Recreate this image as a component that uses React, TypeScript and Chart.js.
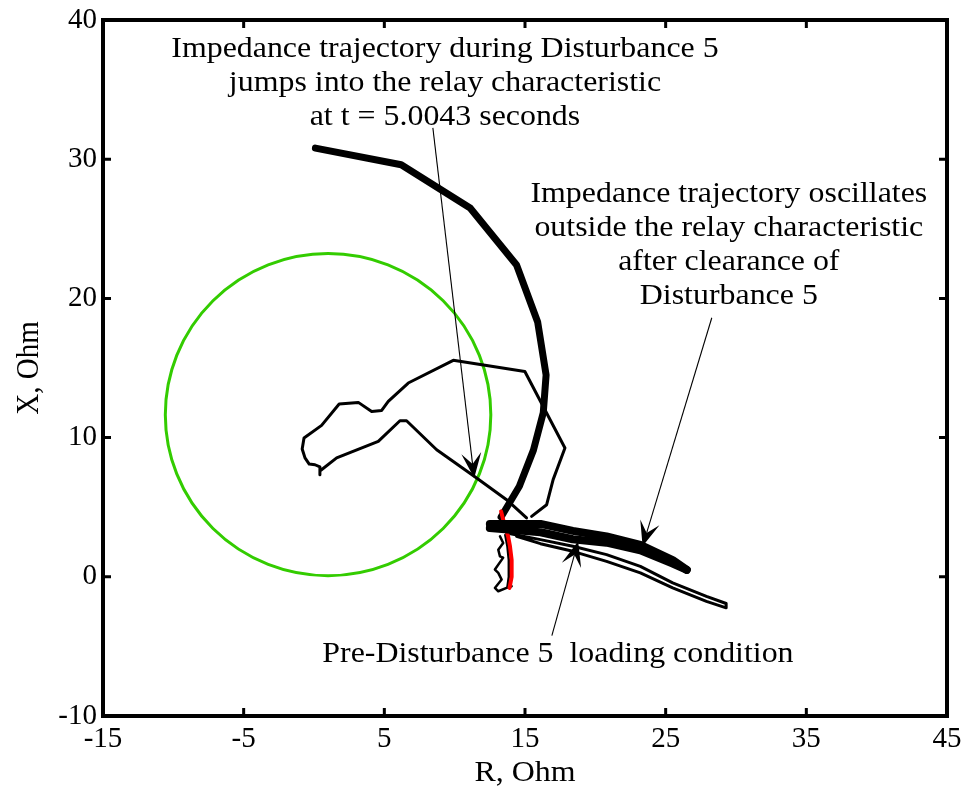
import React, { useEffect, useRef } from "react";
import { Chart, registerables } from "chart.js";

Chart.register(...registerables);

// ---------- axis ticks ----------
const xTickValues = [-15, -5, 5, 15, 25, 35, 45];
const yTickValues = [-10, 0, 10, 20, 30, 40];

// ---------- relay characteristic (mho circle) ----------
const relayCenterR = 1.0;
const relayCenterX = 11.65;
const relayRadius = 11.57;

// ---------- impedance trajectory during Disturbance 5 (thick) ----------
const jumpR = [0.1, 6.2, 11.1, 14.4, 15.9, 16.5, 16.3, 15.6, 14.6, 13.3];
const jumpX = [30.8, 29.6, 26.5, 22.4, 18.3, 14.5, 11.8, 9.1, 6.5, 4.3];

// ---------- impedance swing (thin) ----------
const swingR = [15.47, 16.54, 17.0, 17.84, 14.99, 9.9, 6.7, 5.28, 4.81, 4.1, 3.15, 1.79, 0.54, -0.71, -0.84, -0.64, -0.34, 0.07, 0.42, 0.42, 0.42, 1.61, 4.57, 6.11, 6.58, 8.72, 11.56, 13.69, 15.11];
const swingX = [4.34, 5.18, 6.98, 9.25, 14.75, 15.55, 13.92, 12.6, 11.95, 11.88, 12.53, 12.41, 10.88, 9.97, 9.18, 8.54, 8.1, 8.05, 7.89, 7.34, 7.6, 8.54, 9.73, 11.21, 11.21, 9.13, 7.1, 5.54, 4.23];

// ---------- oscillation after clearance: dense band (two passes) ----------
const bandUpperR = [12.5, 16.1, 18.4, 20.8, 23.2, 25.5, 26.5];
const bandUpperX = [3.8, 3.8, 3.3, 2.9, 2.3, 1.2, 0.5];
const bandLowerR = [12.5, 16.1, 18.4, 20.8, 23.2, 25.5, 26.5];
const bandLowerX = [3.5, 3.2, 2.7, 2.45, 1.9, 0.95, 0.5];

// ---------- oscillation after clearance: outer loop ----------
const loopR = [13.7, 16.1, 18.4, 20.8, 23.2, 25.5, 27.9, 29.3, 29.3, 27.9, 25.5, 23.2, 20.8, 18.4, 16.1, 14.4];
const loopX = [3.15, 2.67, 2.19, 1.59, 0.75, -0.44, -1.4, -1.92, -2.23, -1.76, -0.8, 0.28, 1.11, 1.83, 2.38, 2.91];

// ---------- small swings near the loading point ----------
const wiggleR = [13.22, 13.45, 13.1, 13.22, 13.45, 12.86, 13.1, 13.34, 12.86, 13.1, 13.69, 14.05];
const wiggleX = [2.91, 2.43, 1.95, 1.47, 1.38, 0.52, 0.28, -0.2, -0.8, -1.04, -0.8, -0.68];
const edgeR = [13.6, 13.75, 13.85, 13.85, 13.75];
const edgeX = [3.0, 2.2, 1.2, 0.0, -0.75];

// ---------- pre-disturbance loading condition (red) ----------
const preR = [13.3, 13.5, 13.8, 13.93, 14.05, 14.05, 13.9];
const preX = [4.7, 3.9, 2.9, 2.2, 1.2, 0.0, -0.8];

// ---------- annotation texts ----------
const note1Lines = [
  "Impedance trajectory during Disturbance 5",
  "jumps into the relay characteristic",
  "at t = 5.0043 seconds",
];
const note2Lines = [
  "Impedance trajectory oscillates",
  "outside the relay characteristic",
  "after clearance of",
  "Disturbance 5",
];
const note3Lines = ["Pre-Disturbance 5  loading condition"];
const xTitle = "R, Ohm";
const yTitle = "X, Ohm";

const zip = (r: number[], x: number[]) => r.map((v, i) => ({ x: v, y: x[i] }));

const SERIF = '"Liberation Serif", "Times New Roman", Times, serif';
const FONT_SIZE = 29;
const STRETCH = 1.1;

function stretchedText(ctx: CanvasRenderingContext2D, text: string, cx: number, cy: number) {
  ctx.save();
  ctx.translate(cx, cy);
  ctx.scale(STRETCH, 1);
  ctx.fillText(text, 0, 0);
  ctx.restore();
}

function drawArrow(ctx: CanvasRenderingContext2D, x0: number, y0: number, x1: number, y1: number) {
  const len = 25, half = 10, notch = 14;
  const dx = x1 - x0, dy = y1 - y0;
  const d = Math.hypot(dx, dy);
  const ux = dx / d, uy = dy / d;
  const px = -uy, py = ux;
  const bx = x1 - ux * len, by = y1 - uy * len;
  const nx = x1 - ux * notch, ny = y1 - uy * notch;
  ctx.beginPath();
  ctx.moveTo(x0, y0);
  ctx.lineTo(nx, ny);
  ctx.lineWidth = 1.1;
  ctx.strokeStyle = "#000";
  ctx.stroke();
  ctx.beginPath();
  ctx.moveTo(x1, y1);
  ctx.lineTo(bx + px * half, by + py * half);
  ctx.lineTo(nx, ny);
  ctx.lineTo(bx - px * half, by - py * half);
  ctx.closePath();
  ctx.fillStyle = "#000";
  ctx.fill();
}

const annotPlugin = {
  id: "annot",
  beforeDatasetsDraw(chart: any) {
    const { ctx, scales } = chart;
    const xs = scales.x, ys = scales.y;
    const cx = xs.getPixelForValue(relayCenterR);
    const cy = ys.getPixelForValue(relayCenterX);
    const rx = Math.abs(xs.getPixelForValue(relayCenterR + relayRadius) - cx);
    const ry = Math.abs(ys.getPixelForValue(relayCenterX + relayRadius) - cy);
    ctx.save();
    ctx.beginPath();
    ctx.ellipse(cx, cy, rx, ry, 0, 0, Math.PI * 2);
    ctx.strokeStyle = "#33cc00";
    ctx.lineWidth = 3;
    ctx.stroke();
    ctx.restore();
  },
  afterDatasetsDraw(chart: any) {
    const { ctx, scales, chartArea } = chart;
    const xs = scales.x, ys = scales.y;
    const P = (r: number, x: number) => [xs.getPixelForValue(r), ys.getPixelForValue(x)];
    ctx.save();

    // arrows
    const arrows = [
      [8.45, 32.25, 11.39, 7.1],
      [28.28, 18.61, 23.36, 2.19],
      [16.91, -4.22, 18.78, 2.55],
    ];
    arrows.forEach(([r0, x0, r1, x1]) => {
      const [a, b] = P(r0, x0);
      const [c, d] = P(r1, x1);
      drawArrow(ctx, a, b, c, d);
    });

    // texts
    ctx.fillStyle = "#000";
    ctx.font = `${FONT_SIZE}px ${SERIF}`;
    ctx.textAlign = "center";
    ctx.textBaseline = "alphabetic";
    const notes: [string[], number, number][] = [
      [note1Lines, 9.31, 37.34],
      [note2Lines, 29.49, 26.93],
      [note3Lines, 17.34, -6.09],
    ];
    notes.forEach(([lines, r, x]) => {
      const [px, py] = P(r, x);
      lines.forEach((t, i) => stretchedText(ctx, t, px, py + i * 34));
    });

    // box
    ctx.strokeStyle = "#000";
    ctx.lineWidth = 4;
    ctx.strokeRect(chartArea.left, chartArea.top, chartArea.right - chartArea.left, chartArea.bottom - chartArea.top);

    // inward ticks
    ctx.lineWidth = 3;
    const tl = 8;
    ctx.beginPath();
    xTickValues.forEach((v) => {
      const px = xs.getPixelForValue(v);
      ctx.moveTo(px, chartArea.bottom);
      ctx.lineTo(px, chartArea.bottom - tl);
      ctx.moveTo(px, chartArea.top);
      ctx.lineTo(px, chartArea.top + tl);
    });
    yTickValues.forEach((v) => {
      const py = ys.getPixelForValue(v);
      ctx.moveTo(chartArea.left, py);
      ctx.lineTo(chartArea.left + tl, py);
      ctx.moveTo(chartArea.right, py);
      ctx.lineTo(chartArea.right - tl, py);
    });
    ctx.stroke();

    // axis titles
    ctx.textBaseline = "middle";
    stretchedText(ctx, xTitle, (chartArea.left + chartArea.right) / 2, chartArea.bottom + 57);
    ctx.save();
    ctx.translate(chartArea.left - 73, (chartArea.top + chartArea.bottom) / 2);
    ctx.rotate(-Math.PI / 2);
    ctx.scale(1, STRETCH);
    ctx.fillText(yTitle, 0, 0);
    ctx.restore();

    ctx.restore();
  },
};

export default function App() {
  const ref = useRef<HTMLCanvasElement | null>(null);
  useEffect(() => {
    document.body.style.margin = "0";
    document.body.style.overflow = "hidden";
  }, []);
  useEffect(() => {
    if (!ref.current) return;
    const line = (data: any[], color: string, width: number, order: number) => ({
      data,
      borderColor: color,
      backgroundColor: color,
      borderWidth: width,
      pointRadius: 0,
      showLine: true,
      fill: false,
      tension: 0,
      order,
      borderJoinStyle: "round" as const,
      borderCapStyle: "round" as const,
    });
    const tickFont = { family: SERIF, size: FONT_SIZE };
    const chart = new Chart(ref.current, {
      type: "scatter",
      data: {
        datasets: [
          { label: "Swing", ...line(zip(swingR, swingX), "#000", 3, 6) },
          { label: "Disturbance 5", ...line(zip(jumpR, jumpX), "#000", 7, 5) },
          { label: "Loop", ...line(zip(loopR, loopX), "#000", 3, 4) },
          { label: "Wiggle", ...line(zip(wiggleR, wiggleX), "#000", 2.5, 4) },
          { label: "Edge", ...line(zip(edgeR, edgeX), "#000", 2.5, 4) },
          { label: "Pre-disturbance", ...line(zip(preR, preX), "#ff0000", 4, 3) },
          { label: "Band upper", ...line(zip(bandUpperR, bandUpperX), "#000", 8, 2) },
          { label: "Band lower", ...line(zip(bandLowerR, bandLowerX), "#000", 8, 1) },
        ],
      },
      options: {
        animation: false,
        responsive: true,
        maintainAspectRatio: false,
        layout: { padding: { left: 0, right: 14, top: 20, bottom: 0 } },
        plugins: { legend: { display: false }, tooltip: { enabled: false } },
        scales: {
          x: {
            type: "linear",
            min: -15,
            max: 45,
            afterBuildTicks: (s: any) => {
              s.ticks = xTickValues.map((v) => ({ value: v }));
            },
            afterFit: (s: any) => {
              s.height = 75;
              s.paddingLeft = 0;
              s.paddingRight = 0;
              s.paddingTop = 0;
              s.paddingBottom = 0;
            },
            grid: { display: false, drawTicks: false },
            border: { display: false },
            ticks: { font: tickFont, color: "#000", padding: 6, maxRotation: 0, autoSkip: false },
          },
          y: {
            type: "linear",
            min: -10,
            max: 40,
            afterBuildTicks: (s: any) => {
              s.ticks = yTickValues.map((v) => ({ value: v }));
            },
            afterFit: (s: any) => {
              s.width = 103;
              s.paddingLeft = 0;
              s.paddingRight = 0;
              s.paddingTop = 0;
              s.paddingBottom = 0;
            },
            grid: { display: false, drawTicks: false },
            border: { display: false },
            ticks: { font: tickFont, color: "#000", padding: 6, autoSkip: false },
          },
        },
      },
      plugins: [annotPlugin],
    });
    return () => chart.destroy();
  }, []);
  return (
    <div style={{ width: 961, height: 791, position: "relative" }}>
      <canvas ref={ref} />
    </div>
  );
}
